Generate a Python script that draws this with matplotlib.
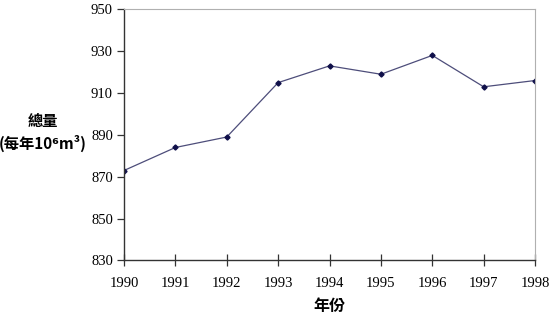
import matplotlib
matplotlib.use("Agg")
import matplotlib.pyplot as plt

plt.rcParams["font.family"] = ["Liberation Serif", "DejaVu Serif"]

# data
years = [1990, 1991, 1992, 1993, 1994, 1995, 1996, 1997, 1998]
total = [873, 884, 889, 915, 923, 919, 928, 913, 916]
y_ticks = [830, 850, 870, 890, 910, 930, 950]

cjk = ["Noto Sans CJK TC", "DejaVu Sans"]


def total_by_year():
    fig = plt.figure(figsize=(5.57, 3.23), dpi=100)
    ax = fig.add_axes([0.2226, 0.1935, 0.738, 0.7775])

    ax.plot(years, total, "-", color="#4d4d7a", linewidth=0.9)
    ax.plot(years, total, "D", color="#10104a", markersize=2.6)

    ax.set_xlim(1990, 1998)
    ax.set_ylim(830, 950)
    ax.set_xticks(years)
    ax.set_yticks(y_ticks)

    for side in ["top", "right"]:
        ax.spines[side].set_color("#b0b0b0")
        ax.spines[side].set_linewidth(0.8)
    for side in ["left", "bottom"]:
        ax.spines[side].set_color("#333333")
        ax.spines[side].set_linewidth(1.0)

    ax.tick_params(axis="x", direction="inout", length=8, width=0.9,
                   color="#333333", labelsize=10.5, pad=8)
    ax.tick_params(axis="y", direction="out", length=5, width=0.9,
                   color="#333333", labelsize=10.5, pad=3)

    ax.set_xlabel("年份", family=cjk, fontweight="heavy", fontsize=11.5,
                  labelpad=6)
    fig.text(0.077, 0.59, "總量\n(每年10⁶m³)", family=cjk,
             fontweight="heavy", fontsize=11, ha="center", va="center",
             linespacing=1.45)

    fig.savefig("out.png", dpi=100)


total_by_year()
